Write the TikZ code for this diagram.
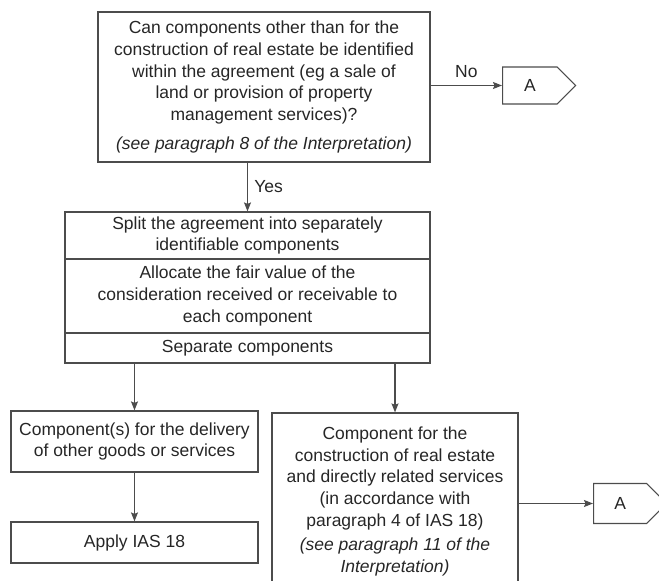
\documentclass[tikz,border=0pt]{standalone}
\usepackage{fontspec}
\setmainfont{Liberation Sans}
\usetikzlibrary{shapes,arrows.meta}

\begin{document}
\begin{tikzpicture}[
	x=1pt,y=-1pt,
	>={Stealth[length=9pt,width=7pt,inset=1.5pt]},
	boxnode/.style={
		rectangle,inner sep=2pt,align=center,
		line width=1.2pt,draw=black!70,text=black!85,
		font=\fontsize{17.5}{21.7}\selectfont},
	linknode/.style={
		signal,signal to=east,inner sep=2pt,anchor=west,
		line width=1.2pt,draw=black!70,text=black!85,
		font=\fontsize{17.5}{21.7}\selectfont},
	transition/.style={->,line width=1.1pt,draw=black!70},
	event/.style={text=black!85,font=\fontsize{17.5}{21.7}\selectfont}
	]
	\clip (0,0) rectangle (659,581);
	% QUESTION
	\node [boxnode, minimum width=332pt, minimum height=150pt] (question) at (264,87) {
		Can components other than for the\\
		construction of real estate be identified\\
		within the agreement (eg a sale of\\
		land or provision of property\\
		management services)?\\[7pt]
		\itshape (see paragraph 8 of the Interpretation)};
	\node [linknode, minimum width=73pt, minimum height=37pt] (outA) at (502,85.5) {A};
	\draw [transition] (question.east |- outA) -- (outA.west) node[event,midway,above=4pt] {No};
	% SPLIT
	\node [boxnode, minimum width=365pt, minimum height=47pt] (split) at (247.5,235.5) {
		Split the agreement into separately\\identifiable components};
	\node [boxnode, minimum width=365pt, minimum height=74pt] (alloc) at (247.5,296) {
		Allocate the fair value of the\\
		consideration received or receivable to\\
		each component};
	\node [boxnode, minimum width=365pt, minimum height=30pt] (separate) at (247.5,348) {
		Separate components};
	\draw [transition] (split.north |- question.south) -- (split.north) node[event,midway,right=3pt] {Yes};
	% OTHER GOODS
	\node [boxnode, minimum width=247pt, minimum height=61pt] (other) at (134.5,441.5) {
		Component(s) for the delivery\\of other goods or services};
	\node [boxnode, minimum width=247pt, minimum height=41pt] (apply) at (134.5,542.5) {
		Apply IAS 18};
	\draw [transition] (other.north |- separate.south) -- (other.north);
	\draw [transition] (other) -- (apply);
	% REAL ESTATE
	\node [boxnode, minimum width=246pt, minimum height=177pt] (estate) at (395,501.5) {
		Component for the\\
		construction of real estate\\
		and directly related services\\
		(in accordance with\\
		paragraph 4 of IAS 18)\\[3pt]
		\itshape (see paragraph 11 of the\\
		\itshape Interpretation)};
	\node [linknode, minimum width=73pt, minimum height=40pt] (estateA) at (593,503.5) {A};
	\draw [transition] (estate.north |- separate.south) -- (estate.north);
	\draw [transition] (estate.east |- estateA) -- (estateA.west);
\end{tikzpicture}
\end{document}
